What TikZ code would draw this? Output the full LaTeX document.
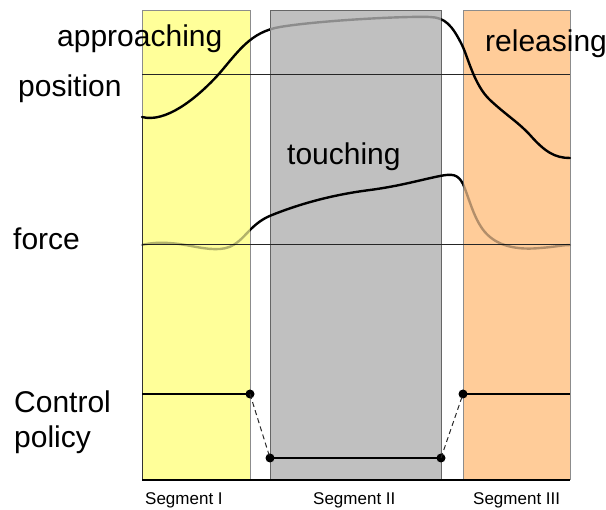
\documentclass[tikz,border=0pt]{standalone}
\usepackage{fontspec}
\setmainfont{Liberation Sans}
\begin{document}
\begin{tikzpicture}[x=1pt,y=-1pt,
  lbl/.style={anchor=base west,inner sep=0pt,font=\fontsize{30}{30}\selectfont},
  seglbl/.style={anchor=base west,inner sep=0pt,font=\fontsize{17}{17}\selectfont},
  base/.style={line width=1pt,black!85},
  curve/.style={line width=2.4pt,line cap=round,line join=round},
  pol/.style={line width=1.4pt,black},
  dot/.style={circle,fill=black,inner sep=0pt,minimum size=9pt},
  dashline/.style={dash pattern=on 5pt off 3.5pt,line width=1pt,black!85}]
\useasboundingbox (0,0) rectangle (606,510);
\definecolor{segyellow}{HTML}{FFFF99}
\definecolor{seggray}{HTML}{C0C0C0}
\definecolor{segorange}{HTML}{FFCC99}
% segments
\draw[fill=segyellow,draw=black!45,line width=1pt] (142,11) rectangle (250,480);
\draw[fill=seggray,draw=black!60,line width=1pt] (270,11) rectangle (441,480);
\draw[fill=segorange,draw=black!45,line width=1pt] (463,11) rectangle (570,480);
% axes
\draw[line width=1pt,black!80] (142,117) -- (142,480);
\draw[line width=1.3pt,black] (142,480) -- (570,480);
% baselines
\draw[base] (142,75) -- (570,75);
\draw[base] (142,245) -- (570,245);
% position curve
\def\poscurve{(142,117) .. controls (165,123) and (195,100) .. (218,75)
  .. controls (238,52) and (250,32) .. (280,27)
  .. controls (315,21) and (400,16) .. (430,17)
  .. controls (445,17.5) and (452,25) .. (462,45)
  .. controls (468,57) and (474,85) .. (490,100)
  .. controls (506,115) and (518,122) .. (530,135)
  .. controls (545,152) and (555,158) .. (570,158)}
\begin{scope}
  \clip (0,0) rectangle (270,510) (441,0) rectangle (606,510);
  \draw[curve,black] \poscurve;
\end{scope}
\begin{scope}
  \clip (270,0) rectangle (441,510);
  \draw[curve,black!45] \poscurve;
\end{scope}
% force curve
\def\forcecurve{(142,245) .. controls (150,243) and (160,242) .. (175,243.5)
  .. controls (190,245) and (205,250) .. (220,249)
  .. controls (235,248) and (242,238) .. (250,230)
  .. controls (256,224) and (262,219) .. (272,215)
  .. controls (297,205) and (330,195) .. (370,190)
  .. controls (400,186) and (420,180) .. (440,176)
  .. controls (452,173.6) and (458,174) .. (463,184)
  .. controls (470,200) and (475,225) .. (490,237)
  .. controls (502,247) and (520,250) .. (540,248)
  .. controls (555,247) and (562,245) .. (570,245)}
\begin{scope}
  \clip (250,0) rectangle (463,510);
  \draw[curve,black] \forcecurve;
\end{scope}
\begin{scope}
  \clip (0,0) rectangle (250,510) (463,0) rectangle (606,510);
  \draw[curve,black,opacity=0.3] \forcecurve;
\end{scope}
% control policy
\node[dot] (p1) at (250,394) {};
\node[dot] (p2) at (270,458) {};
\node[dot] (p3) at (441,458) {};
\node[dot] (p4) at (463,394) {};
\coordinate (c0) at (142,394);
\coordinate (c5) at (570,394);
\draw[pol] (c0) -- (p1.center);
\draw[dashline] (p1.center) -- (p2.center);
\draw[pol] (p2.center) -- (p3.center);
\draw[dashline] (p3.center) -- (p4.center);
\draw[pol] (p4.center) -- (c5);
% labels
\node[lbl] (approaching) at (57,47) {approaching};
\node[lbl] (position) at (18,97) {position};
\node[lbl] (releasing) at (485,52) {releasing};
\node[lbl] (touching) at (287,165) {touching};
\node[lbl] (force) at (13,250) {force};
\node[lbl] (control) at (14,413) {Control};
\node[lbl] (policy) at (14,448) {policy};
\node[seglbl] (s1) at (145,505) {Segment I};
\node[seglbl] (s2) at (313,505) {Segment II};
\node[seglbl] (s3) at (473,505) {Segment III};
\end{tikzpicture}
\end{document}
